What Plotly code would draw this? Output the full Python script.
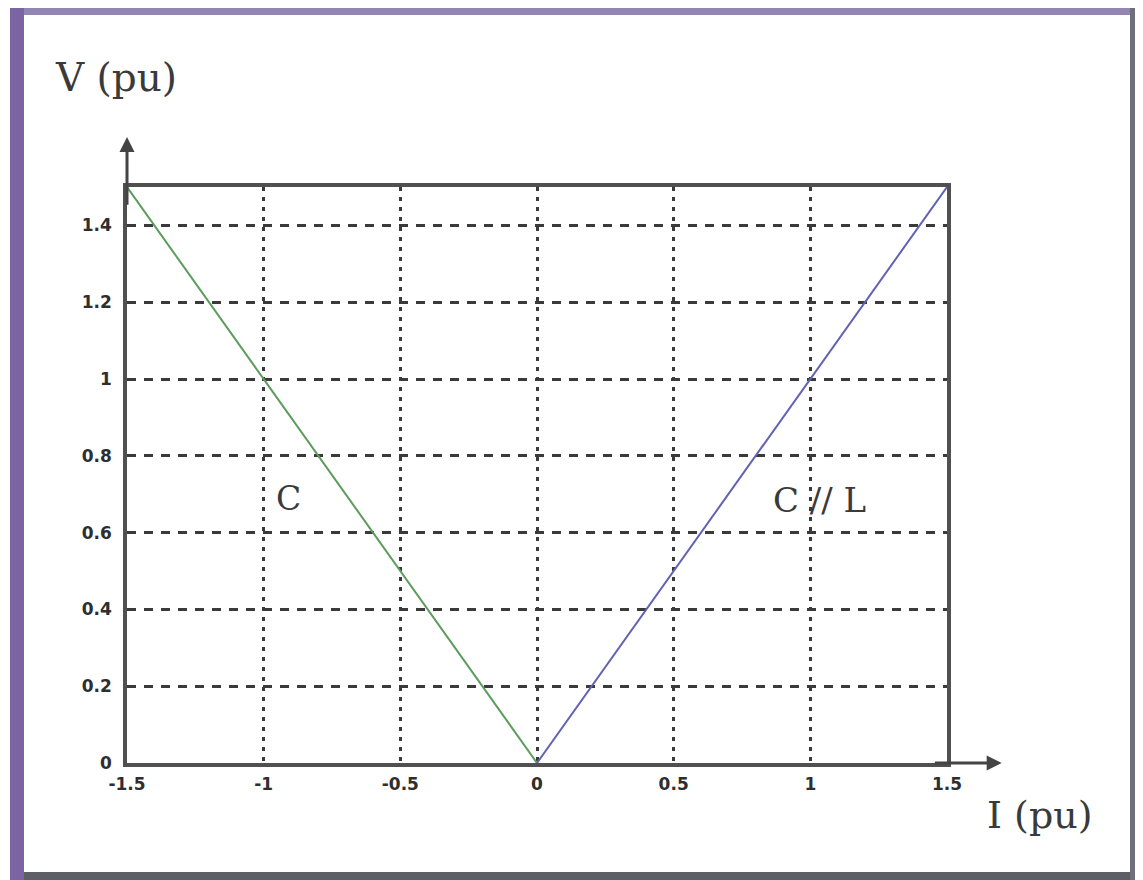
import plotly.graph_objects as go

# ---- data ----
c_current = [-1.5, 0.0]
c_voltage = [1.5, 0.0]
cl_current = [0.0, 1.5]
cl_voltage = [0.0, 1.5]
x_ticks = [-1.5, -1, -0.5, 0, 0.5, 1, 1.5]
x_tick_labels = ["-1.5", "-1", "-0.5", "0", "0.5", "1", "1.5"]
y_ticks = [0, 0.2, 0.4, 0.6, 0.8, 1, 1.2, 1.4]
y_tick_labels = ["0", "0.2", "0.4", "0.6", "0.8", "1", "1.2", "1.4"]

OFF = 8  # page body margin
W, H = 1135, 872
L, T = 127 - OFF, 187 - OFF
R = W - (947 - OFF)
B = H - (763 - OFF)
pw, ph = W - L - R, H - T - B

def px(x):
    return (x - OFF - L) / pw

def py(y):
    return (H - B - (y - OFF)) / ph

fig = go.Figure()
fig.add_trace(go.Scatter(x=c_current, y=c_voltage, mode="lines",
                         line=dict(color="#5c9c5c", width=2), showlegend=False))
fig.add_trace(go.Scatter(x=cl_current, y=cl_voltage, mode="lines",
                         line=dict(color="#6262b4", width=2), showlegend=False))

serif = "DejaVu Serif"
shapes = [
    dict(type="rect", xref="paper", yref="paper", x0=px(10), x1=px(1141), y0=py(15), y1=py(8),
         fillcolor="#9486b2", line=dict(width=0), layer="above"),
    dict(type="rect", xref="paper", yref="paper", x0=px(10), x1=px(24), y0=py(880), y1=py(8),
         fillcolor="#7a64a2", line=dict(width=0), layer="above"),
    dict(type="rect", xref="paper", yref="paper", x0=px(1130), x1=px(1141), y0=py(880), y1=py(8),
         fillcolor="#6e6e7c", line=dict(width=0), layer="above"),
    dict(type="rect", xref="paper", yref="paper", x0=px(24), x1=px(1130), y0=py(880), y1=py(872),
         fillcolor="#5e5e66", line=dict(width=0), layer="above"),
]

annotations = [
    dict(x=1.70, y=0, xref="x", yref="y", ax=1.45, ay=0, axref="x", ayref="y",
         showarrow=True, arrowhead=2, arrowsize=1, arrowwidth=3, arrowcolor="#444", text=""),
    dict(x=-1.5, y=1.63, xref="x", yref="y", ax=-1.5, ay=1.45, axref="x", ayref="y",
         showarrow=True, arrowhead=2, arrowsize=1, arrowwidth=3, arrowcolor="#444", text=""),
    dict(x=px(53), y=py(78), xref="paper", yref="paper", text="V (pu)", showarrow=False,
         xanchor="left", yanchor="middle", font=dict(family=serif, size=39, color="#3a3a3a")),
    dict(x=px(985), y=py(815), xref="paper", yref="paper", text="I (pu)", showarrow=False,
         xanchor="left", yanchor="middle", font=dict(family=serif, size=38, color="#3a3a3a")),
    dict(x=-0.91, y=0.69, xref="x", yref="y", text="C", showarrow=False,
         font=dict(family=serif, size=33, color="#3a3a3a")),
    dict(x=1.035, y=0.685, xref="x", yref="y", text="C // L", showarrow=False,
         font=dict(family=serif, size=34, color="#3a3a3a")),
]

tickfont = dict(family="DejaVu Sans", size=17, weight="bold", color="#2e2e2e")
fig.update_layout(
    width=W, height=H,
    margin=dict(l=L, r=R, t=T, b=B, pad=0),
    paper_bgcolor="white", plot_bgcolor="white",
    shapes=shapes, annotations=annotations,
    xaxis=dict(range=[-1.5, 1.5], tickvals=x_ticks, ticktext=x_tick_labels,
               showgrid=True, gridcolor="#3a3a3a", gridwidth=2.5, griddash="4px,6px",
               showline=True, linecolor="#505050", linewidth=3.5, mirror=True,
               zeroline=False, ticks="", ticklabelstandoff=3, tickfont=tickfont),
    yaxis=dict(range=[0, 1.5], tickvals=y_ticks, ticktext=y_tick_labels,
               showgrid=True, gridcolor="#3a3a3a", gridwidth=2.5, griddash="9px,8px",
               showline=True, linecolor="#505050", linewidth=3.5, mirror=True,
               zeroline=False, ticks="", ticklabelstandoff=8, tickfont=tickfont),
)

fig.write_html("out.html")
